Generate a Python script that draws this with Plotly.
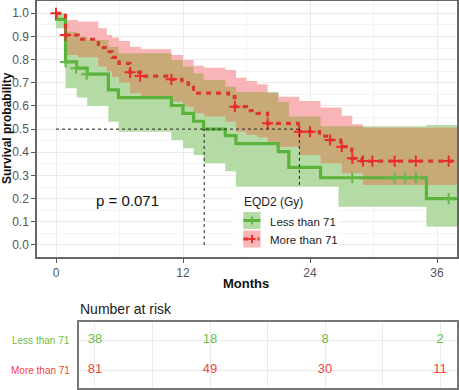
import numpy as np
import plotly.graph_objects as go

# ---------------- data ----------------
# Kaplan-Meier curve: "Less than 71"
less_t = [0, 0.05, 0.9, 1.95, 2.95, 4.95, 5.9, 10.9, 12.0, 13.0, 13.95, 16.0, 17.0, 21.0, 22.0, 25.0, 35.0, 37.9]
less_s = [1.0, 0.974, 0.79, 0.763, 0.737, 0.669, 0.636, 0.602, 0.568, 0.534, 0.5, 0.472, 0.437, 0.403, 0.335, 0.29, 0.2, 0.2]
less_cens_t = [0.9, 1.9, 2.9, 28.0, 32.0, 33.0, 34.0, 37.1]
less_cens_s = [0.79, 0.763, 0.737, 0.29, 0.29, 0.29, 0.29, 0.2]
less_band_t = [0, 0.9, 1.95, 2.95, 4.95, 5.9, 10.9, 12.0, 13.0, 13.95, 16.0, 17.0, 21.0, 22.0, 25.0, 35.0, 37.9]
less_band_lo = [0.935, 0.676, 0.637, 0.6, 0.532, 0.489, 0.453, 0.417, 0.388, 0.353, 0.318, 0.24, 0.21, 0.17, 0.165, 0.079, 0.079]
less_band_hi = [1.0, 0.92, 0.9, 0.885, 0.856, 0.827, 0.798, 0.77, 0.741, 0.712, 0.683, 0.66, 0.618, 0.554, 0.512, 0.518, 0.518]

# Kaplan-Meier curve: "More than 71"
more_t = [0, 0.9, 2.1, 4.0, 4.8, 5.3, 5.95, 7.0, 8.0, 10.9, 11.9, 12.5, 13.0, 16.3, 16.9, 18.0, 19.0, 20.0, 22.9, 24.9, 25.9, 26.9, 27.95, 28.9, 37.9]
more_s = [1.0, 0.906, 0.888, 0.852, 0.834, 0.81, 0.784, 0.745, 0.729, 0.715, 0.70, 0.68, 0.655, 0.64, 0.597, 0.58, 0.568, 0.525, 0.489, 0.47, 0.453, 0.424, 0.374, 0.362, 0.362]
more_cens_t = [0, 0.9, 7.0, 7.95, 10.9, 16.9, 20.0, 23.0, 24.0, 25.9, 27.0, 28.0, 29.0, 29.9, 32.0, 34.0, 37.1]
more_cens_s = [1.0, 0.906, 0.745, 0.729, 0.715, 0.597, 0.525, 0.489, 0.489, 0.453, 0.424, 0.374, 0.362, 0.362, 0.362, 0.362, 0.362]
more_band_t = [0, 0.9, 2.1, 4.0, 4.8, 5.3, 5.95, 7.0, 8.0, 10.9, 12.0, 13.0, 14.0, 16.0, 17.0, 18.0, 19.0, 20.0, 21.0, 23.0, 25.0, 27.0, 28.0, 29.0, 37.9]
more_band_lo = [1.0, 0.82, 0.81, 0.77, 0.75, 0.725, 0.70, 0.655, 0.64, 0.618, 0.597, 0.568, 0.554, 0.532, 0.489, 0.475, 0.465, 0.446, 0.424, 0.388, 0.353, 0.31, 0.31, 0.259, 0.259]
more_band_hi = [1.0, 0.971, 0.964, 0.935, 0.906, 0.895, 0.88, 0.856, 0.845, 0.82, 0.798, 0.774, 0.765, 0.755, 0.722, 0.708, 0.694, 0.655, 0.64, 0.621, 0.593, 0.558, 0.521, 0.506, 0.506]

median_t = [14.0, 23.0]
median_s = 0.5
p_text = "p = 0.071"

groups = ["Less than 71", "More than 71"]
risk_times = [0, 12, 24, 36]
risk_less = [38, 18, 8, 2]
risk_more = [81, 49, 30, 11]

x_ticks = [0, 12, 24, 36]
y_ticks = [0.0, 0.1, 0.2, 0.3, 0.4, 0.5, 0.6, 0.7, 0.8, 0.9, 1.0]

# ---------------- styling ----------------
W, H = 459, 390
FONT = "Liberation Sans, Arial, sans-serif"
GREEN = "#5bb33c"
GREEN_X = "#63b948"
RED = "#d9382b"
RED_X = "#ec2c2c"
GREEN_FILL = "#b5dba4"
PINK_FILL = "#f9b4b7"
OVER_FILL = "#c8aa78"
GRID = "#ebebeb"
MINOR = "#f4f4f4"
TXT_GREEN = "#6cbd4c"
TXT_RED = "#f0433d"


def fx(px):
    return px / W


def fy(py):
    return 1 - py / H


fig = go.Figure()


def band(t, lo, hi, color):
    fig.add_trace(go.Scatter(x=t, y=lo, mode="lines", line=dict(width=0, shape="hv"),
                             hoverinfo="skip", showlegend=False))
    fig.add_trace(go.Scatter(x=t, y=hi, mode="lines", line=dict(width=0, shape="hv"),
                             fill="tonexty", fillcolor=color, hoverinfo="skip", showlegend=False))


band(less_band_t, less_band_lo, less_band_hi, GREEN_FILL)
band(more_band_t, more_band_lo, more_band_hi, PINK_FILL)

# overlap of the two bands
gt = np.array(less_band_t)
rt = np.array(more_band_t)
tu = np.union1d(gt, rt)
gi = np.searchsorted(gt, tu, side="right") - 1
ri = np.searchsorted(rt, tu, side="right") - 1
ov_lo = np.maximum(np.array(less_band_lo)[gi], np.array(more_band_lo)[ri])
ov_hi = np.minimum(np.array(less_band_hi)[gi], np.array(more_band_hi)[ri])
ov_hi = np.maximum(ov_hi, ov_lo)
band(tu.tolist(), ov_lo.tolist(), ov_hi.tolist(), OVER_FILL)

# curves
fig.add_trace(go.Scatter(x=less_t, y=less_s, mode="lines",
                         line=dict(color=GREEN, width=3.2, shape="hv"), showlegend=False))
fig.add_trace(go.Scatter(x=more_t, y=more_s, mode="lines",
                         line=dict(color=RED, width=3.2, shape="hv", dash="5px,5px"), showlegend=False))
fig.add_trace(go.Scatter(x=less_cens_t, y=less_cens_s, mode="markers",
                         marker=dict(symbol="cross-thin", size=8, line=dict(width=2, color=GREEN_X)),
                         showlegend=False))
fig.add_trace(go.Scatter(x=more_cens_t, y=more_cens_s, mode="markers",
                         marker=dict(symbol="cross-thin", size=8, line=dict(width=2, color=RED_X)),
                         showlegend=False))

# risk table
fig.add_trace(go.Scatter(x=risk_times, y=[2] * len(risk_times), text=[str(v) for v in risk_less],
                         mode="text", textfont=dict(family=FONT, size=13, color=TXT_GREEN),
                         xaxis="x2", yaxis="y2", showlegend=False))
fig.add_trace(go.Scatter(x=risk_times, y=[1] * len(risk_times), text=[str(v) for v in risk_more],
                         mode="text", textfont=dict(family=FONT, size=13, color=TXT_RED),
                         xaxis="x2", yaxis="y2", showlegend=False))

shapes = []
# median lines
shapes.append(dict(type="line", xref="x", yref="y", x0=0, x1=max(median_t), y0=median_s, y1=median_s,
                   line=dict(color="#222", width=1, dash="3px,3px"), layer="above"))
for m in median_t:
    shapes.append(dict(type="line", xref="x", yref="y", x0=m, x1=m, y0=0, y1=median_s,
                       line=dict(color="#222", width=1, dash="3px,3px"), layer="above"))

# legend box (opaque, inside the panel)
shapes.append(dict(type="rect", xref="paper", yref="paper", x0=fx(233), x1=fx(338.5),
                   y0=fy(256.2), y1=fy(186.7), fillcolor="white", line=dict(width=0), layer="above"))
# legend keys
shapes.append(dict(type="rect", xref="paper", yref="paper", x0=fx(243.3), x1=fx(260.5),
                   y0=fy(229), y1=fy(212), fillcolor=GREEN_FILL, line=dict(width=0), layer="above"))
shapes.append(dict(type="rect", xref="paper", yref="paper", x0=fx(243.3), x1=fx(260.5),
                   y0=fy(247.5), y1=fy(230.5), fillcolor=PINK_FILL, line=dict(width=0), layer="above"))
shapes.append(dict(type="line", xref="paper", yref="paper", x0=fx(243.3), x1=fx(260.5),
                   y0=fy(220.5), y1=fy(220.5), line=dict(color=GREEN, width=3), layer="above"))
shapes.append(dict(type="line", xref="paper", yref="paper", x0=fx(251.9), x1=fx(251.9),
                   y0=fy(216.5), y1=fy(224.5), line=dict(color=GREEN_X, width=2), layer="above"))
shapes.append(dict(type="line", xref="paper", yref="paper", x0=fx(243.3), x1=fx(248.5),
                   y0=fy(239), y1=fy(239), line=dict(color=RED, width=3), layer="above"))
shapes.append(dict(type="line", xref="paper", yref="paper", x0=fx(248.5), x1=fx(255.5),
                   y0=fy(239), y1=fy(239), line=dict(color=RED_X, width=2), layer="above"))
shapes.append(dict(type="line", xref="paper", yref="paper", x0=fx(257.5), x1=fx(259.5),
                   y0=fy(239), y1=fy(239), line=dict(color=RED, width=3), layer="above"))
shapes.append(dict(type="line", xref="paper", yref="paper", x0=fx(252), x1=fx(252),
                   y0=fy(235), y1=fy(243), line=dict(color=RED_X, width=2), layer="above"))

annotations = [
    dict(xref="x", yref="y", x=6.76, y=0.194, text=p_text, showarrow=False,
         font=dict(family=FONT, size=15, color="#111")),
    dict(xref="paper", yref="paper", x=fx(241.7), y=fy(201.5), text="EQD2 (Gy)", showarrow=False,
         xanchor="left", yanchor="middle", font=dict(family=FONT, size=12, color="#222")),
    dict(xref="paper", yref="paper", x=fx(267.5), y=fy(221.5), text=groups[0], showarrow=False,
         xanchor="left", yanchor="middle", font=dict(family=FONT, size=11.5, color="#222")),
    dict(xref="paper", yref="paper", x=fx(267.5), y=fy(240), text=groups[1], showarrow=False,
         xanchor="left", yanchor="middle", font=dict(family=FONT, size=11.5, color="#222")),
    dict(xref="paper", yref="paper", x=fx(245.5), y=fy(283), text="<b>Months</b>", showarrow=False,
         xanchor="center", yanchor="middle", font=dict(family=FONT, size=13, color="#111")),
    dict(xref="paper", yref="paper", x=fx(7), y=fy(128), text="<b>Survival probability</b>", showarrow=False,
         textangle=-90, xanchor="center", yanchor="middle", font=dict(family=FONT, size=12, color="#111")),
    dict(xref="paper", yref="paper", x=fx(77.5), y=fy(309), text="Number at risk", showarrow=False,
         xanchor="left", yanchor="middle", font=dict(family=FONT, size=14, color="#222")),
    dict(xref="paper", yref="paper", x=fx(72), y=fy(340), text=groups[0], showarrow=False,
         xanchor="right", yanchor="middle", font=dict(family=FONT, size=10, color=TXT_GREEN)),
    dict(xref="paper", yref="paper", x=fx(72), y=fy(370), text=groups[1], showarrow=False,
         xanchor="right", yanchor="middle", font=dict(family=FONT, size=10, color=TXT_RED)),
]

fig.update_layout(
    width=W, height=H, margin=dict(l=0, r=0, t=0, b=0),
    paper_bgcolor="white", plot_bgcolor="white", showlegend=False,
    font=dict(family=FONT),
    shapes=shapes, annotations=annotations,
    xaxis=dict(domain=[fx(37), fx(457)], range=[-1.795, 37.89], tickvals=x_ticks,
               ticktext=[str(v) for v in x_ticks], ticks="outside", ticklen=4, tickwidth=1,
               tickcolor="#555", tickfont=dict(family=FONT, size=12, color="#555"),
               showgrid=True, gridcolor=GRID, gridwidth=1,
               minor=dict(tickvals=[6, 18, 30], showgrid=True, gridcolor=MINOR, ticks=""),
               showline=True, mirror=True, linecolor="#666", linewidth=1.5,
               zeroline=False, automargin=False, anchor="y", fixedrange=True),
    yaxis=dict(domain=[fy(257), fy(1)], range=[-0.052, 1.053], tickvals=y_ticks,
               ticktext=["%.1f" % v for v in y_ticks], ticks="outside", ticklen=4, tickwidth=1,
               tickcolor="#555", tickfont=dict(family=FONT, size=12, color="#555"),
               showgrid=True, gridcolor=GRID, gridwidth=1,
               minor=dict(dtick=0.05, tick0=0.05, showgrid=True, gridcolor=MINOR, ticks=""),
               showline=True, mirror=True, linecolor="#666", linewidth=1.5,
               zeroline=False, automargin=False, anchor="x", fixedrange=True),
    xaxis2=dict(domain=[fx(78.7), fx(457)], range=[-1.7, 37.77], tickvals=risk_times,
                showticklabels=False, ticks="", showgrid=True, gridcolor=GRID,
                minor=dict(tickvals=[6, 18, 30], showgrid=True, gridcolor=GRID, ticks=""),
                showline=True, mirror=True, linecolor="#777", linewidth=2,
                zeroline=False, automargin=False, anchor="y2", fixedrange=True),
    yaxis2=dict(domain=[fy(388), fy(322)], range=[0.4, 2.6], tickvals=[1, 2],
                showticklabels=False, ticks="", showgrid=True, gridcolor=GRID,
                showline=True, mirror=True, linecolor="#777", linewidth=2,
                zeroline=False, automargin=False, anchor="x2", fixedrange=True),
)

fig.write_html("out.html", config={"displayModeBar": False},
               post_script="document.body.style.margin='0px';document.body.style.padding='0px';"
                           "document.documentElement.style.overflow='hidden';")
